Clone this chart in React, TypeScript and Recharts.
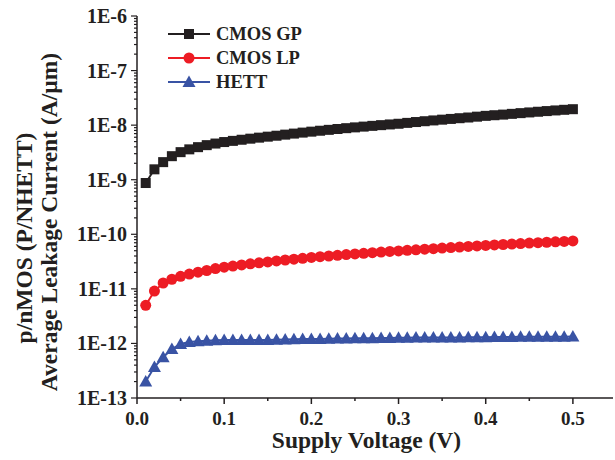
import React from 'react';
import { LineChart, Line, XAxis, YAxis, Legend } from 'recharts';

// ─── Data ─────────────────────────────────────────────────────────────────────
// Supply voltage (V)
const volts = [
  0.01, 0.02, 0.03, 0.04, 0.05, 0.06, 0.07, 0.08, 0.09, 0.1,
  0.11, 0.12, 0.13, 0.14, 0.15, 0.16, 0.17, 0.18, 0.19, 0.2,
  0.21, 0.22, 0.23, 0.24, 0.25, 0.26, 0.27, 0.28, 0.29, 0.3,
  0.31, 0.32, 0.33, 0.34, 0.35, 0.36, 0.37, 0.38, 0.39, 0.4,
  0.41, 0.42, 0.43, 0.44, 0.45, 0.46, 0.47, 0.48, 0.49, 0.5,
];

// Average leakage current (A/µm)
const cmosGP = [
  8.7e-10, 1.55e-9, 2.1e-9, 2.7e-9, 3.2e-9, 3.6e-9, 3.95e-9, 4.3e-9, 4.6e-9, 4.9e-9,
  5.15e-9, 5.4e-9, 5.65e-9, 5.9e-9, 6.15e-9, 6.4e-9, 6.7e-9, 7.0e-9, 7.3e-9, 7.6e-9,
  7.9e-9, 8.2e-9, 8.5e-9, 8.8e-9, 9.1e-9, 9.4e-9, 9.7e-9, 1.0e-8, 1.03e-8, 1.06e-8,
  1.1e-8, 1.14e-8, 1.18e-8, 1.22e-8, 1.26e-8, 1.3e-8, 1.34e-8, 1.38e-8, 1.43e-8, 1.48e-8,
  1.52e-8, 1.56e-8, 1.61e-8, 1.66e-8, 1.71e-8, 1.76e-8, 1.81e-8, 1.86e-8, 1.91e-8, 1.96e-8,
];

const cmosLP = [
  5.0e-12, 9.1e-12, 1.28e-11, 1.5e-11, 1.7e-11, 1.87e-11, 2.02e-11, 2.17e-11, 2.35e-11, 2.5e-11,
  2.62e-11, 2.75e-11, 2.88e-11, 3.0e-11, 3.12e-11, 3.25e-11, 3.38e-11, 3.5e-11, 3.63e-11, 3.76e-11,
  3.88e-11, 4.0e-11, 4.12e-11, 4.24e-11, 4.36e-11, 4.48e-11, 4.6e-11, 4.72e-11, 4.84e-11, 4.96e-11,
  5.08e-11, 5.2e-11, 5.33e-11, 5.46e-11, 5.59e-11, 5.72e-11, 5.85e-11, 5.98e-11, 6.11e-11, 6.24e-11,
  6.37e-11, 6.5e-11, 6.63e-11, 6.76e-11, 6.89e-11, 7.02e-11, 7.15e-11, 7.28e-11, 7.41e-11, 7.55e-11,
];

const hett = [
  2.0e-13, 3.7e-13, 5.6e-13, 7.9e-13, 9.8e-13, 1.06e-12, 1.1e-12, 1.12e-12, 1.14e-12, 1.15e-12,
  1.16e-12, 1.16e-12, 1.15e-12, 1.15e-12, 1.15e-12, 1.17e-12, 1.18e-12, 1.19e-12, 1.2e-12, 1.2e-12,
  1.21e-12, 1.22e-12, 1.23e-12, 1.23e-12, 1.24e-12, 1.25e-12, 1.25e-12, 1.26e-12, 1.26e-12, 1.27e-12,
  1.27e-12, 1.28e-12, 1.28e-12, 1.28e-12, 1.29e-12, 1.29e-12, 1.29e-12, 1.3e-12, 1.3e-12, 1.3e-12,
  1.31e-12, 1.31e-12, 1.31e-12, 1.32e-12, 1.32e-12, 1.32e-12, 1.33e-12, 1.33e-12, 1.33e-12, 1.34e-12,
];

// Axis ticks
const xTicks = [0, 0.05, 0.1, 0.15, 0.2, 0.25, 0.3, 0.35, 0.4, 0.45, 0.5];
const yDecades = [-13, -12, -11, -10, -9, -8, -7, -6];
const yMinorMantissas = [2, 3, 4, 5, 6, 7, 8, 9];

const rows = volts.map((v, i) => ({ v, gp: cmosGP[i], lp: cmosLP[i], hett: hett[i] }));

const yTicks: number[] = [];
yDecades.forEach((d) => {
  yTicks.push(Math.pow(10, d));
  if (d < -6) yMinorMantissas.forEach((m) => yTicks.push(m * Math.pow(10, d)));
});

// ─── Look ─────────────────────────────────────────────────────────────────────
const FONT = '"Liberation Serif", "Times New Roman", serif';
const AXIS = '#231f20';
const W = 615;
const H = 460;
const PLOT_LEFT = 137;
const PLOT_TOP = 16;
const PLOT_BOTTOM = 398;

const SERIES = [
  { key: 'gp', name: 'CMOS GP', color: '#231f20', shape: 'square' },
  { key: 'lp', name: 'CMOS LP', color: '#ed1c24', shape: 'circle' },
  { key: 'hett', name: 'HETT', color: '#3953a4', shape: 'triangle' },
];

function Marker({ cx, cy, shape, color }: { cx: number; cy: number; shape: string; color: string }) {
  if (shape === 'square') return <rect x={cx - 5} y={cy - 5} width={10} height={10} fill={color} />;
  if (shape === 'circle') return <circle cx={cx} cy={cy} r={5.5} fill={color} />;
  return (
    <polygon
      points={`${cx},${cy - 6.5} ${cx + 6.5},${cy + 5} ${cx - 6.5},${cy + 5}`}
      fill={color}
    />
  );
}

const makeDot = (shape: string, color: string) => (p: any) => {
  if (p.cx == null || p.cy == null) return <g key={p.key} />;
  return <Marker key={p.key} cx={p.cx} cy={p.cy} shape={shape} color={color} />;
};

const XTick = (props: any) => {
  const { x, payload } = props;
  const v = payload.value as number;
  const major = Math.abs(v * 10 - Math.round(v * 10)) < 1e-6;
  return (
    <g>
      <line x1={x} x2={x} y1={PLOT_BOTTOM} y2={PLOT_BOTTOM + (major ? 6 : 3)} stroke={AXIS} strokeWidth={1.5} />
      {major && (
        <text x={x} y={425} textAnchor="middle" fontFamily={FONT} fontWeight="bold" fontSize={19} fill={AXIS}>
          {v.toFixed(1)}
        </text>
      )}
    </g>
  );
};

const YTick = (props: any) => {
  const { y, payload } = props;
  const exp = Math.log10(payload.value as number);
  const major = Math.abs(exp - Math.round(exp)) < 1e-6;
  return (
    <g>
      <line x1={PLOT_LEFT} x2={PLOT_LEFT - (major ? 6 : 3)} y1={y} y2={y} stroke={AXIS} strokeWidth={1.2} />
      {major && (
        <text x={127} y={y + 7} textAnchor="end" fontFamily={FONT} fontWeight="bold" fontSize={20} fill={AXIS}>
          {`1E${Math.round(exp)}`}
        </text>
      )}
    </g>
  );
};

const YTitle = () => (
  <g fontFamily={FONT} fontWeight="bold" fontSize={23.5} fill={AXIS}>
    <text x={0} y={0} textAnchor="middle" transform="translate(32,238) rotate(-90)">
      p/nMOS (P/NHETT)
    </text>
    <text x={0} y={0} textAnchor="middle" transform="translate(57,222) rotate(-90)">
      Average Leakage Current (A/µm)
    </text>
  </g>
);

const XTitle = () => (
  <text x={366.5} y={448} textAnchor="middle" fontFamily={FONT} fontWeight="bold" fontSize={23.5} fill={AXIS}>
    Supply Voltage (V)
  </text>
);

const LegendBox = () => (
  <div style={{ fontFamily: FONT, fontWeight: 'bold', fontSize: 18.5, color: AXIS }}>
    {SERIES.map((s) => (
      <div key={s.key} style={{ display: 'flex', alignItems: 'center', height: 24 }}>
        <svg width={44} height={20} style={{ display: 'block' }}>
          <line x1={1} x2={43} y1={10} y2={10} stroke={s.color} strokeWidth={2} />
          <Marker cx={22} cy={10} shape={s.shape} color={s.color} />
        </svg>
        <span style={{ marginLeft: 5, lineHeight: '20px' }}>{s.name}</span>
      </div>
    ))}
  </div>
);

export default function App() {
  return (
    <div style={{ position: 'absolute', left: 0, top: 0, width: W, height: H, background: '#fff' }}>
      <LineChart width={W} height={H} data={rows} margin={{ top: PLOT_TOP, right: 2, bottom: 0, left: 0 }}>
        <XAxis
          dataKey="v"
          type="number"
          domain={[0, 0.546]}
          ticks={xTicks}
          allowDataOverflow
          height={H - PLOT_BOTTOM}
          axisLine={{ stroke: AXIS, strokeWidth: 1.5 }}
          tickLine={false}
          tick={<XTick />}
          interval={0}
          label={{ content: <XTitle /> }}
        />
        <YAxis
          scale="log"
          domain={[1e-13, 1e-6]}
          ticks={yTicks}
          allowDataOverflow
          width={PLOT_LEFT}
          axisLine={{ stroke: AXIS, strokeWidth: 1.5 }}
          tickLine={false}
          tick={<YTick />}
          interval={0}
          label={{ content: <YTitle /> }}
        />
        <Legend
          layout="vertical"
          align="center"
          verticalAlign="middle"
          content={<LegendBox />}
          wrapperStyle={{ left: 167, top: 22, width: 'auto', right: 'auto', bottom: 'auto' }}
        />
        {SERIES.map((s) => (
          <Line
            key={s.key}
            type="linear"
            dataKey={s.key}
            name={s.name}
            stroke={s.color}
            strokeWidth={2}
            dot={makeDot(s.shape, s.color)}
            activeDot={false}
            isAnimationActive={false}
          />
        ))}
      </LineChart>
    </div>
  );
}
